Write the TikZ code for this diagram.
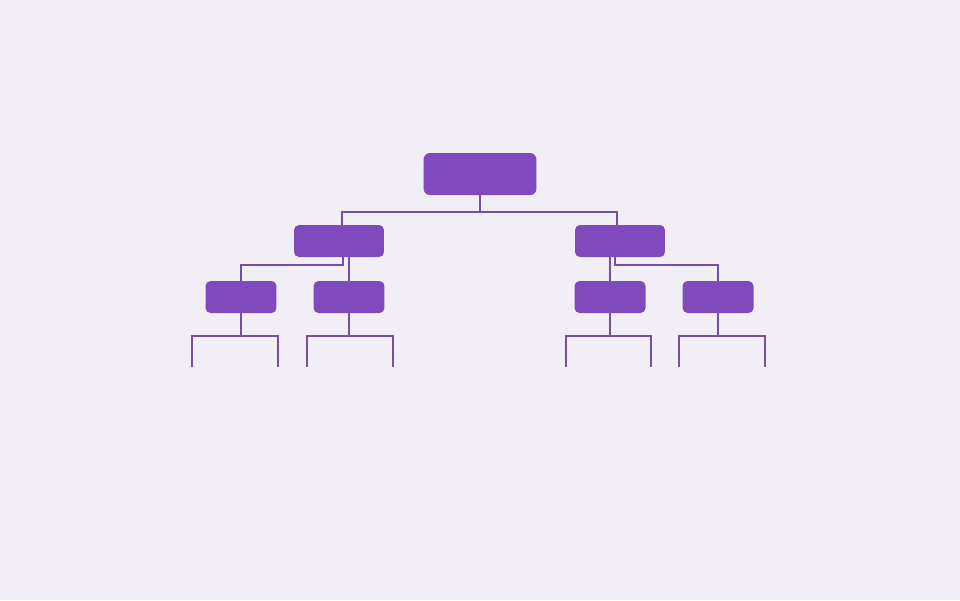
\documentclass[tikz,border=0pt]{standalone}
\usetikzlibrary{positioning}
\definecolor{bgpaper}{HTML}{F1EFF5}
\definecolor{boxfill}{HTML}{8049BC}
\definecolor{linkcol}{HTML}{7550A0}

\begin{document}
\begin{tikzpicture}[x=0.02cm,y=-0.02cm,
    box/.style={rectangle,fill=boxfill,draw=none,inner sep=0pt,rounded corners=0.1cm},
    root box/.style={box,minimum width=2.26cm,minimum height=0.84cm,rounded corners=0.13cm},
    mid box/.style={box,minimum width=1.8cm,minimum height=0.64cm},
    leaf box/.style={box,minimum width=1.42cm,minimum height=0.64cm},
    link/.style={draw=linkcol,line width=1.1pt}]
    \fill[bgpaper] (0,0) rectangle (960,600);
    \useasboundingbox (0,0) rectangle (960,600);

     \node[root box] (root) at (480,174) {};
      \node[mid box] (midL) at (339,241) {};
      \node[mid box] (midR) at (620,241) {};
       \node[leaf box] (leafA) at (241,297) {};
       \node[leaf box] (leafB) at (349,297) {};
       \node[leaf box] (leafC) at (610,297) {};
       \node[leaf box] (leafD) at (718,297) {};

      % open ends below the leaves
      \coordinate (a1) at (192,367); \coordinate (a2) at (278,367);
      \coordinate (b1) at (307,367); \coordinate (b2) at (393,367);
      \coordinate (c1) at (566,367); \coordinate (c2) at (651,367);
      \coordinate (d1) at (679,367); \coordinate (d2) at (765,367);

       \path[link] (root.south) -- ++(0,17) -| ([xshift=0.06cm]midL.north);
       \path[link] (root.south) -- ++(0,17) -| ([xshift=-0.06cm]midR.north);
       \path[link] ([xshift=0.08cm]midL.south) -- ++(0,7.5) -| (leafA.north);
       \path[link] (leafB.north |- midL.south) -- (leafB.north);
       \path[link] (leafC.north |- midR.south) -- (leafC.north);
       \path[link] ([xshift=-0.1cm]midR.south) -- ++(0,8) -| (leafD.north);

      \path[link] (leafA.south) -- ++(0,23) coordinate (ja);
      \path[link] (a1) |- (ja) -| (a2);
      \path[link] (leafB.south) -- ++(0,23) coordinate (jb);
      \path[link] (b1) |- (jb) -| (b2);
      \path[link] (leafC.south) -- ++(0,23) coordinate (jc);
      \path[link] (c1) |- (jc) -| (c2);
      \path[link] (leafD.south) -- ++(0,23) coordinate (jd);
      \path[link] (d1) |- (jd) -| (d2);
  \end{tikzpicture}
\end{document}
